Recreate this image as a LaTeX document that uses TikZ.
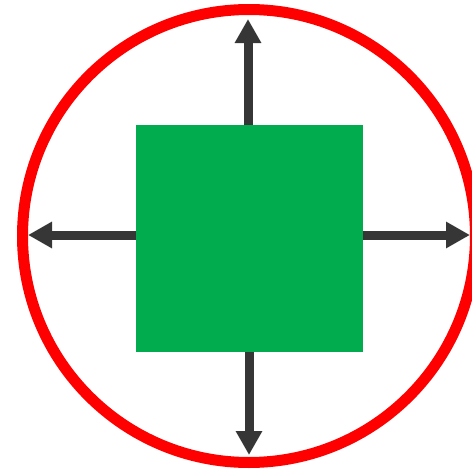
\documentclass[tikz,border=0pt]{standalone}
\usetikzlibrary{arrows.meta}
\definecolor{sqgreen}{RGB}{0,172,77}
\definecolor{arrgray}{RGB}{54,54,54}
\tikzset{
  ringstyle/.style={draw=red, line width=11pt},
  sqstyle/.style={fill=sqgreen, draw=none, minimum width=227pt, minimum height=227pt, inner sep=0pt, outer sep=0pt},
  outarrow/.style={draw=arrgray, line width=9pt, -{Triangle[length=24pt,width=25pt]}}
}
\begin{document}
\begin{tikzpicture}[x=1pt,y=-1pt]
\useasboundingbox (0,0) rectangle (472,469);
\draw[ringstyle] (249,236) circle (226.5);
\node[sqstyle] (sq) at (249.5,238.5) {};
\coordinate (up) at (248,19);
\coordinate (down) at (249,455);
\coordinate (left) at (28,235);
\coordinate (right) at (470,235);
\draw[outarrow] (sq.north -| up) -- (up);
\draw[outarrow] (sq.south -| down) -- (down);
\draw[outarrow] (sq.west |- left) -- (left);
\draw[outarrow] (sq.east |- right) -- (right);
\end{tikzpicture}
\end{document}
